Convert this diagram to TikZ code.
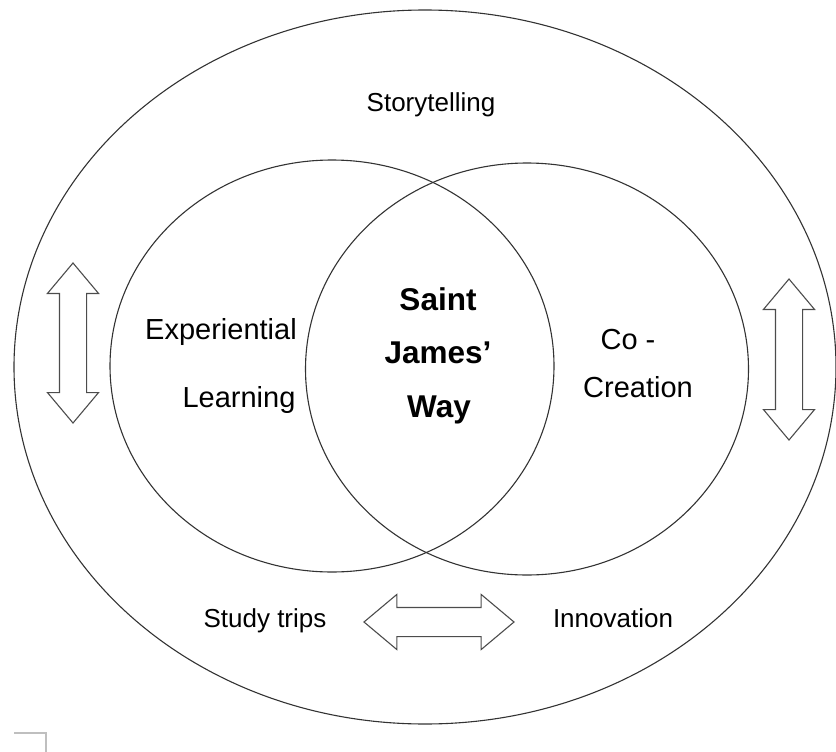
\documentclass[tikz,border=0pt]{standalone}
\usepackage{fontspec}
\setmainfont{Liberation Sans}
\usetikzlibrary{shapes.geometric,shapes.arrows}

\begin{document}
\begin{tikzpicture}[x = 1pt, y = -1pt, line width = 1.1pt,
		ring/.style = { draw = black!80, ellipse, inner sep = 0pt },
		words/.style = { font = \fontsize{29}{34}\selectfont, anchor = base, inner sep = 0pt },
		small/.style = { words, font = \fontsize{26}{31}\selectfont },
		way/.style = { font = \fontsize{31.5}{36}\selectfont\bfseries, anchor = base, inner sep = 0pt },
		twoway/.style = { draw = black!70, double arrow, double arrow tip angle = 80, double arrow head extend = 12pt, inner sep = 13pt, minimum height = 160pt }]
				\useasboundingbox (0, 0) rectangle (836, 752);
				\node[ring, minimum width = 822pt, minimum height = 714pt] (o) at (425, 367) {};
				\node[ring, minimum width = 444pt, minimum height = 412pt] (l) at (332, 366) {};
				\node[ring, minimum width = 443pt, minimum height = 412pt] (r) at (527, 369) {};
				\node[small] (st) at (431, 112) {Storytelling};
				\node[words] (ex) at (221, 339) {Experiential};
				\node[words] (le) at (239, 407) {Learning};
				\node[way] (sa) at (438, 310) {Saint};
				\node[way] (ja) at (438, 363) {James'};
				\node[way] (wa) at (439, 417) {Way};
				\node[words] (co) at (628, 349) {Co -};
				\node[words] (cr) at (638, 397) {Creation};
				\node[small] (tr) at (265, 627) {Study trips};
				\node[small] (in) at (613, 627) {Innovation};
				\node[twoway, shape border rotate = 90] (lv) at (73, 343) {};
				\node[twoway, shape border rotate = 90, minimum height = 161pt] (rv) at (789, 359.5) {};
				\node[twoway, minimum height = 150pt, inner sep = 14pt, double arrow head extend = 13pt] (h) at (439, 622) {};
				\draw[black!25] (14, 733) -- (46, 733) -- (46, 752);
			\end{tikzpicture}
\end{document}
